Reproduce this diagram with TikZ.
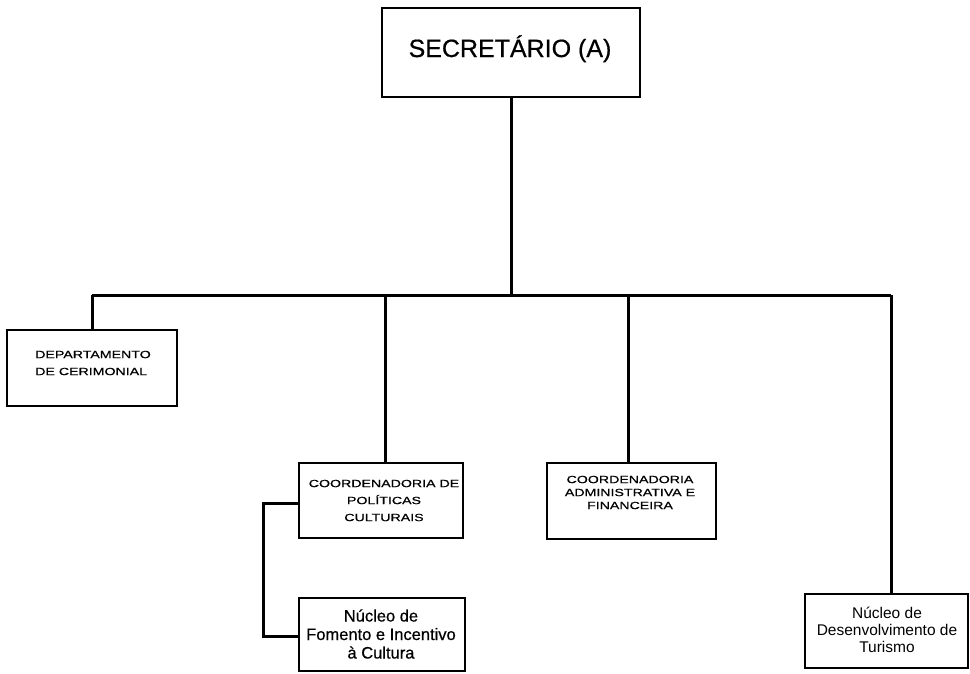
\documentclass[tikz,border=0pt]{standalone}
\usepackage{fontspec}
\setmainfont{Liberation Sans}
\newfontfamily\widesf[FakeStretch=1.35,FakeBold=0.6]{Liberation Sans}
\newfontfamily\heavysf[FakeBold=0.6]{Liberation Sans}
\begin{document}
\begin{tikzpicture}[x=1pt,y=-1pt,
  box/.style={draw=black, line width=2.4pt, rectangle, inner sep=0pt},
  conn/.style={draw=black, line width=3pt},
  capt/.style={inner sep=0pt, align=center, font=\widesf\fontsize{10.5}{17}\selectfont},
  low/.style={inner sep=0pt, align=center, font=\heavysf\fontsize{16.5}{18.5}\selectfont}]
\useasboundingbox (0,0) rectangle (970,673);
% boxes
\node[box, minimum width=258pt, minimum height=89pt] (sec) at (511,52.5) {};
\node[box, minimum width=170pt, minimum height=76pt] (dep) at (92,368) {};
\node[box, minimum width=164pt, minimum height=75pt] (pol) at (381,500.5) {};
\node[box, minimum width=169pt, minimum height=76pt] (adm) at (631.5,501) {};
\node[box, minimum width=166pt, minimum height=73pt] (fom) at (382,634.5) {};
\node[box, minimum width=163pt, minimum height=74pt] (tur) at (886.5,631) {};
% texts
\node[inner sep=0pt, anchor=base, font=\heavysf\fontsize{25}{30}\selectfont] (sect) at (510,57) {SECRET\'ARIO (A)};
\node[capt, align=left] (dept) at (93,363) {DEPARTAMENTO\\DE CERIMONIAL};
\node[capt] (polt) at (384,500.5) {COORDENADORIA DE\\POL\'ITICAS\\CULTURAIS};
\node[capt, font=\widesf\fontsize{10.5}{13}\selectfont] (admt) at (630,492.5) {COORDENADORIA\\ADMINISTRATIVA E\\FINANCEIRA};
\node[low] (fomt) at (381,634) {N\'ucleo de\\Fomento e Incentivo\\\`a Cultura};
\node[low, font=\fontsize{15.5}{17}\selectfont] (turt) at (887,630) {N\'ucleo de\\Desenvolvimento de\\Turismo};
% bus coordinates
\coordinate (busL) at (92,295);
\coordinate (busR) at (891,295);
\coordinate (b2) at (385,295);
\coordinate (b3) at (628,295);
\coordinate (s1) at (263,503);
\coordinate (s2) at (263,636);
% connectors
\draw[conn] (sec.south) -- (sec.south |- busL);
\draw[conn] (busL) -- (busR);
\draw[conn] (busL) -- (busL |- dep.north);
\draw[conn] (b2) -- (b2 |- pol.north);
\draw[conn] (b3) -- (b3 |- adm.north);
\draw[conn] (busR) -- (busR |- tur.north);
\draw[conn] (pol.west |- s1) -- (s1) -- (s2) -- (fom.west |- s2);
\end{tikzpicture}
\end{document}
